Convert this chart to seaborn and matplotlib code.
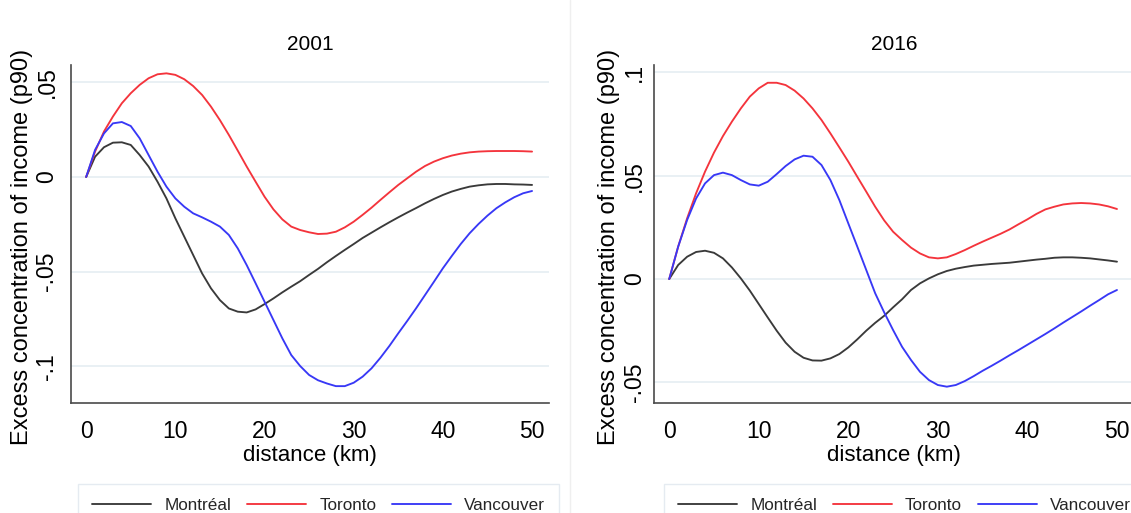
import numpy as np
import pandas as pd
import seaborn as sns
import matplotlib
matplotlib.use("Agg")
import matplotlib.pyplot as plt
from matplotlib.lines import Line2D

# ---------------- data (one value per km) ----------------
cities = ["Montréal", "Toronto", "Vancouver"]
years = ["2001", "2016"]
distance_km = list(range(0, 51))

# 2001
mtl_2001 = [0, 0.0107, 0.0157, 0.0181, 0.0183, 0.0169, 0.0116, 0.0055, -0.0025, -0.0113,
            -0.0218, -0.0315, -0.0412, -0.0509, -0.0588, -0.065, -0.0694, -0.0711, -0.0715, -0.0699,
            -0.0671, -0.0641, -0.0609, -0.0579, -0.055, -0.0517, -0.0485, -0.045, -0.0417, -0.0385,
            -0.0354, -0.0322, -0.0294, -0.0266, -0.0239, -0.0213, -0.0188, -0.0164, -0.0139, -0.0116,
            -0.0095, -0.0077, -0.0063, -0.0051, -0.0044, -0.0039, -0.0037, -0.0037, -0.0039, -0.004,
            -0.0042]
tor_2001 = [0, 0.0134, 0.024, 0.0319, 0.0389, 0.0442, 0.0486, 0.0521, 0.0542, 0.0547,
            0.0539, 0.0516, 0.048, 0.0433, 0.0371, 0.030, 0.0222, 0.0139, 0.0055, -0.0025,
            -0.0104, -0.0171, -0.0224, -0.0262, -0.028, -0.0292, -0.0301, -0.0299, -0.0289, -0.0266,
            -0.0236, -0.020, -0.0162, -0.0121, -0.0081, -0.0042, -0.0007, 0.0028, 0.0058, 0.0081,
            0.0099, 0.0113, 0.0123, 0.013, 0.0134, 0.0136, 0.0137, 0.0137, 0.0137, 0.0136,
            0.0134]
van_2001 = [0, 0.0143, 0.023, 0.0283, 0.029, 0.0269, 0.0204, 0.0116, 0.0028, -0.0051,
            -0.0113, -0.0157, -0.0192, -0.0213, -0.0236, -0.0262, -0.0306, -0.0377, -0.0465, -0.0561,
            -0.0658, -0.0755, -0.0852, -0.094, -0.0998, -0.1045, -0.1073, -0.109, -0.1104, -0.1104,
            -0.1086, -0.1054, -0.101, -0.0954, -0.0892, -0.0825, -0.076, -0.0693, -0.0623, -0.0553,
            -0.0482, -0.0417, -0.0354, -0.0297, -0.0248, -0.0204, -0.0165, -0.0134, -0.0107, -0.0086,
            -0.0074]

# 2016
mtl_2016 = [0, 0.0068, 0.0108, 0.0131, 0.0137, 0.0127, 0.010, 0.0056, 0.0003, -0.0056,
            -0.0121, -0.0186, -0.025, -0.0308, -0.0352, -0.0381, -0.0394, -0.0395, -0.0384, -0.0363,
            -0.0331, -0.0292, -0.025, -0.0212, -0.0178, -0.0137, -0.0098, -0.0053, -0.0021, 0.0003,
            0.0023, 0.0039, 0.005, 0.0058, 0.0065, 0.0069, 0.0073, 0.0076, 0.0079, 0.0084,
            0.0089, 0.0094, 0.0098, 0.0103, 0.0105, 0.0105, 0.0103, 0.010, 0.0095, 0.009,
            0.0084]
tor_2016 = [0, 0.0157, 0.0294, 0.0415, 0.052, 0.0612, 0.0692, 0.0762, 0.0826, 0.0883,
            0.0923, 0.0950, 0.0950, 0.0939, 0.0912, 0.0874, 0.0826, 0.077, 0.0705, 0.0637,
            0.0568, 0.0495, 0.0423, 0.035, 0.0284, 0.0229, 0.0189, 0.0152, 0.0124, 0.0105,
            0.010, 0.0105, 0.0121, 0.014, 0.0161, 0.0181, 0.020, 0.0219, 0.024, 0.0265,
            0.0289, 0.0315, 0.0337, 0.035, 0.0361, 0.0366, 0.0368, 0.0366, 0.0361, 0.0352,
            0.0339]
van_2016 = [0, 0.0157, 0.0286, 0.039, 0.0463, 0.0503, 0.0515, 0.0503, 0.0479, 0.0458,
            0.0452, 0.0471, 0.0508, 0.0547, 0.0579, 0.0597, 0.0592, 0.0552, 0.0479, 0.0382,
            0.0269, 0.0157, 0.0044, -0.0069, -0.0161, -0.0247, -0.0328, -0.0392, -0.0449, -0.0489,
            -0.0513, -0.0521, -0.0513, -0.0494, -0.047, -0.0444, -0.042, -0.0395, -0.0369, -0.0344,
            -0.0318, -0.0292, -0.0266, -0.0239, -0.0211, -0.0184, -0.0157, -0.0129, -0.0102, -0.0074,
            -0.0053]

ytick_vals_01 = [0.05, 0, -0.05, -0.1]
ytick_labs_01 = [".05", "0", "-.05", "-.1"]
ytick_vals_16 = [0.1, 0.05, 0, -0.05]
ytick_labs_16 = [".1", ".05", "0", "-.05"]
xtick_vals = [0, 10, 20, 30, 40, 50]

ylabel_text = "Excess concentration of income (p90)"
xlabel_text = "distance (km)"

# ---------------- build long-form frames ----------------
def frame(series):
    parts = []
    for city, ys in series:
        parts.append(pd.DataFrame({"distance": distance_km, "value": ys, "city": city}))
    return pd.concat(parts, ignore_index=True)

df01 = frame([(cities[0], mtl_2001), (cities[1], tor_2001), (cities[2], van_2001)])
df16 = frame([(cities[0], mtl_2016), (cities[1], tor_2016), (cities[2], van_2016)])

# ---------------- style ----------------
sns.set_theme(style="white")
plt.rcParams["font.family"] = ["Liberation Sans", "DejaVu Sans"]

palette = {"Montréal": "#3a3a3a", "Toronto": "#f4343c", "Vancouver": "#3838f6"}

W, H = 1131, 513
fig = plt.figure(figsize=(W / 100, H / 100), dpi=100)
fig.patch.set_facecolor("white")

XMIN, XMAX = -1.7, 51.9

def px_axes(x0, x1, y0, y1):
    return fig.add_axes([x0 / W, 1 - y1 / H, (x1 - x0) / W, (y1 - y0) / H])

ax1 = px_axes(71, 549, 65, 403)
ax2 = px_axes(654, 1134, 65, 403)

panels = [
    (ax1, df01, years[0], (-0.1193, 0.0591), ytick_vals_01, ytick_labs_01, -0.1025, 78, 4.0),
    (ax2, df16, years[1], (-0.0600, 0.1036), ytick_vals_16, ytick_labs_16, -0.094, 664, 1.0),
]

for ax, df, title, ylim, yv, yl, ylab_x, leg_x, ypad in panels:
    sns.lineplot(data=df, x="distance", y="value", hue="city", hue_order=cities,
                 palette=palette, sort=False, estimator=None, linewidth=1.35, ax=ax)
    ax.set_xlim(XMIN, XMAX)
    ax.set_ylim(*ylim)
    ax.set_xticks(xtick_vals)
    ax.set_xticklabels([str(v) for v in xtick_vals])
    ax.set_yticks(yv)
    ax.set_yticklabels(yl)
    ax.grid(axis="y", color="#e3ecf1", linewidth=1.1)
    ax.grid(axis="x", visible=False)
    ax.set_axisbelow(True)
    for s in ["top", "right"]:
        ax.spines[s].set_visible(False)
    for s in ["left", "bottom"]:
        ax.spines[s].set_color("#4a4a4a")
        ax.spines[s].set_linewidth(1.2)
    ax.tick_params(axis="both", direction="out", length=5, width=1.1, color="#4a4a4a",
                   labelsize=16.5, labelcolor="black")
    ax.tick_params(axis="x", pad=7)
    ax.tick_params(axis="y", pad=ypad)
    for lab in ax.get_yticklabels():
        lab.set_rotation(90)
        lab.set_va("center")
        lab.set_ha("right")
    ax.set_title(title, fontsize=15, pad=11, color="black")
    ax.set_xlabel(xlabel_text, fontsize=16, labelpad=2, color="black")
    ax.set_ylabel(ylabel_text, fontsize=17.0, color="black", va="center")
    ax.yaxis.set_label_coords(ylab_x, 0.462)

    handles = [Line2D([0], [0], color=palette[c], lw=1.35) for c in cities]
    ax.get_legend().remove()
    leg = ax.legend(handles, cities, loc="upper left",
                    bbox_to_anchor=(leg_x / W, 1 - 484 / H), bbox_transform=fig.transFigure,
                    ncol=3, fontsize=12.3, handlelength=3.5, handletextpad=0.75,
                    columnspacing=0.9, borderpad=0.8, frameon=True, fancybox=False,
                    borderaxespad=0)
    leg.get_frame().set_edgecolor("#dfe7ee")
    leg.get_frame().set_linewidth(1.0)

# faint separator between panels
fig.add_artist(Line2D([570 / W, 570 / W], [0, 1], color="#efefef", lw=1.0))

fig.savefig("out.png", dpi=100, facecolor="white")
